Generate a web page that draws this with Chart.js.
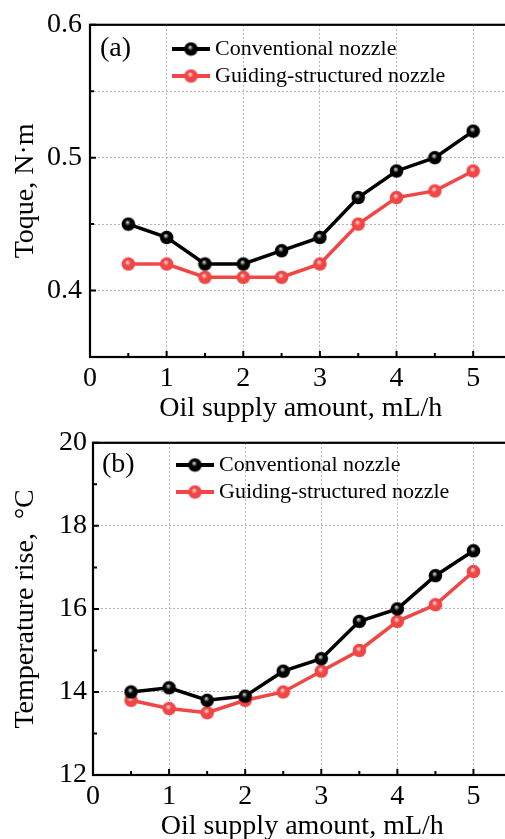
<!DOCTYPE html>
<html><head><meta charset="utf-8">
<script src="https://cdn.jsdelivr.net/npm/chart.js@4/dist/chart.umd.min.js"></script>
<style>
html,body{margin:0;padding:0;background:#fff;overflow:hidden;width:505px;height:839px}
#wrap{position:relative;width:540px;height:860px}
canvas{position:absolute;left:0}
#c1{top:0}
#c2{top:420px}
</style></head><body>
<div id="wrap">
<canvas id="c1" width="522" height="430"></canvas>
<canvas id="c2" width="522" height="430"></canvas>
</div>
<script>
const oilSupply = [0.5,1,1.5,2,2.5,3,3.5,4,4.5,5];
const torqueConventional = [0.45,0.44,0.42,0.42,0.43,0.44,0.47,0.49,0.50,0.52];
const torqueGuiding = [0.42,0.42,0.41,0.41,0.41,0.42,0.45,0.47,0.475,0.49];
const tempConventional = [14.0,14.1,13.8,13.9,14.5,14.8,15.7,16.0,16.8,17.4];
const tempGuiding = [13.8,13.6,13.5,13.8,14.0,14.5,15.0,15.7,16.1,16.9];
const xTickValues = [0,1,2,3,4,5];
const xMinorValues = [0.5,1.5,2.5,3.5,4.5];
const torqueTickValues = [0.4,0.5,0.6];
const torqueMinorValues = [0.45,0.55];
const tempTickValues = [12,14,16,18,20];
const tempMinorValues = [13,15,17,19];
const seriesNames = ['Conventional nozzle','Guiding-structured nozzle'];

const FONT = "'Liberation Serif','Times New Roman',serif";
const BLACK = '#000000', RED = '#f04646';

function sphere(color, hi){
  const r = 6.8, s = 15;
  const c = document.createElement('canvas'); c.width = s; c.height = s;
  const g = c.getContext('2d'); const cx = s/2, cy = s/2;
  const grad = g.createRadialGradient(cx-1, cy-2, 0.3, cx, cy, r);
  grad.addColorStop(0, hi); grad.addColorStop(0.4, color); grad.addColorStop(1, color);
  g.fillStyle = grad; g.beginPath(); g.arc(cx, cy, r, 0, Math.PI*2); g.fill();
  return c;
}
const ballBlack = sphere(BLACK, '#d8d8d8');
const ballRed = sphere(RED, '#ffe0e0');

function pts(ys){ return oilSupply.map((x,i)=>({x, y: ys[i]})); }

const decor = {
  id: 'decor',
  afterDraw(chart, args, o){
    const ctx = chart.ctx, a = chart.chartArea;
    const xs = chart.scales.x, ys = chart.scales.y;
    ctx.save();
    ctx.strokeStyle = '#000'; ctx.lineWidth = 2;
    ctx.beginPath();
    o.xMajor.forEach(v => { const p = xs.getPixelForValue(v); ctx.moveTo(p, a.bottom); ctx.lineTo(p, a.bottom-6); });
    o.xMinor.forEach(v => { const p = xs.getPixelForValue(v); ctx.moveTo(p, a.bottom); ctx.lineTo(p, a.bottom-4); });
    o.yMajor.forEach(v => { const p = ys.getPixelForValue(v); ctx.moveTo(a.left, p); ctx.lineTo(a.left+6, p); });
    o.yMinor.forEach(v => { const p = ys.getPixelForValue(v); ctx.moveTo(a.left, p); ctx.lineTo(a.left+4, p); });
    ctx.stroke();
    ctx.lineWidth = 2.2;
    ctx.strokeRect(a.left, a.top, a.right-a.left, a.bottom-a.top);
    ctx.fillStyle = '#000';
    ctx.font = '28px ' + FONT;
    ctx.textBaseline = 'middle'; ctx.textAlign = 'left';
    ctx.fillText(o.label, o.lx, o.ly);
    ctx.font = '22px ' + FONT;
    chart.data.datasets.forEach((ds, i) => {
      const y = o.legY + i*o.legGap;
      ctx.strokeStyle = ds.borderColor; ctx.lineWidth = 4;
      ctx.beginPath(); ctx.moveTo(o.legX, y); ctx.lineTo(o.legX+38, y); ctx.stroke();
      const img = ds.pointStyle;
      ctx.drawImage(img, o.legX+19-img.width/2, y-img.height/2);
      ctx.fillStyle = '#000';
      ctx.fillText(ds.label, o.legX+43, y);
    });
    ctx.restore();
  }
};

function makeChart(id, d1, d2, yMin, yMax, yTicks, yMinor, gridVals, yTitle, opts){
  const labelTicks = yTicks.slice();
  const allY = yTicks.concat(gridVals).filter((v,i,arr)=>arr.indexOf(v)===i).sort((a,b)=>a-b);
  return new Chart(document.getElementById(id), {
    type: 'line',
    data: { datasets: [
      { label: seriesNames[0], data: pts(d1), borderColor: BLACK, borderWidth: 3.5, pointStyle: ballBlack, pointRadius: 7, tension: 0, order: 1 },
      { label: seriesNames[1], data: pts(d2), borderColor: RED, borderWidth: 3.5, pointStyle: ballRed, pointRadius: 7, tension: 0, order: 2 }
    ]},
    options: {
      responsive: false, animation: false, devicePixelRatio: 1,
      layout: { padding: { top: opts.top, right: 4, left: 0, bottom: 0 } },
      plugins: { legend: { display: false }, tooltip: { enabled: false }, decor: {
        xMajor: xTickValues, xMinor: xMinorValues, yMajor: yTicks, yMinor: yMinor,
        label: opts.label, lx: opts.lx, ly: opts.ly, legX: opts.legX, legY: opts.legY, legGap: opts.legGap } },
      scales: {
        x: { type: 'linear', min: 0, max: 5.5,
          afterFit: s => { s.height = opts.xH; },
          afterBuildTicks: s => { s.ticks = xTickValues.map(v=>({value:v})); },
          ticks: { font: { family: FONT, size: 28 }, color: '#000', padding: opts.xPad, maxRotation: 0, autoSkip: false,
            callback: v => String(v) },
          grid: { drawTicks: false, lineWidth: 1, color: c => (c.tick && c.tick.value > 0) ? '#b4b4b4' : 'rgba(0,0,0,0)' },
          border: { display: false, dash: [2,2] },
          title: { display: true, text: 'Oil supply amount, mL/h', color: '#000', font: { family: FONT, size: 28 }, padding: { top: 0, bottom: opts.xtPad } }
        },
        y: { type: 'linear', min: yMin, max: yMax,
          afterFit: s => { s.width = opts.yW; },
          afterBuildTicks: s => { s.ticks = allY.map(v=>({value:v})); },
          ticks: { font: { family: FONT, size: 28 }, color: '#000', padding: opts.yPad, autoSkip: false,
            callback: v => labelTicks.includes(v) ? opts.fmt(v) : '' },
          grid: { drawTicks: false, lineWidth: 1, color: c => (c.tick && gridVals.includes(c.tick.value)) ? '#b4b4b4' : 'rgba(0,0,0,0)' },
          border: { display: false, dash: [2,2] },
          title: { display: true, text: yTitle, color: '#000', font: { family: FONT, size: 28 }, padding: { top: opts.ytPad, bottom: 0 } }
        }
      }
    },
    plugins: [decor]
  });
}

makeChart('c1', torqueConventional, torqueGuiding, 0.35, 0.6, torqueTickValues, torqueMinorValues, [0.4,0.45,0.5,0.55], 'Toque, N·m',
  { top: 22, xH: 73, yW: 90, xPad: 5, xtPad: 5, yPad: 8, ytPad: 9, fmt: v => v.toFixed(1),
    label: '(a)', lx: 100, ly: 49, legX: 172, legY: 49, legGap: 27 });
makeChart('c2', tempConventional, tempGuiding, 12, 20, tempTickValues, tempMinorValues, [14,16,18], 'Temperature rise,  °C',
  { top: 20, xH: 75, yW: 93, xPad: 5, xtPad: 7, yPad: 6, ytPad: 9, fmt: v => String(v),
    label: '(b)', lx: 102, ly: 45, legX: 176, legY: 45, legGap: 27 });
</script>
</body></html>
